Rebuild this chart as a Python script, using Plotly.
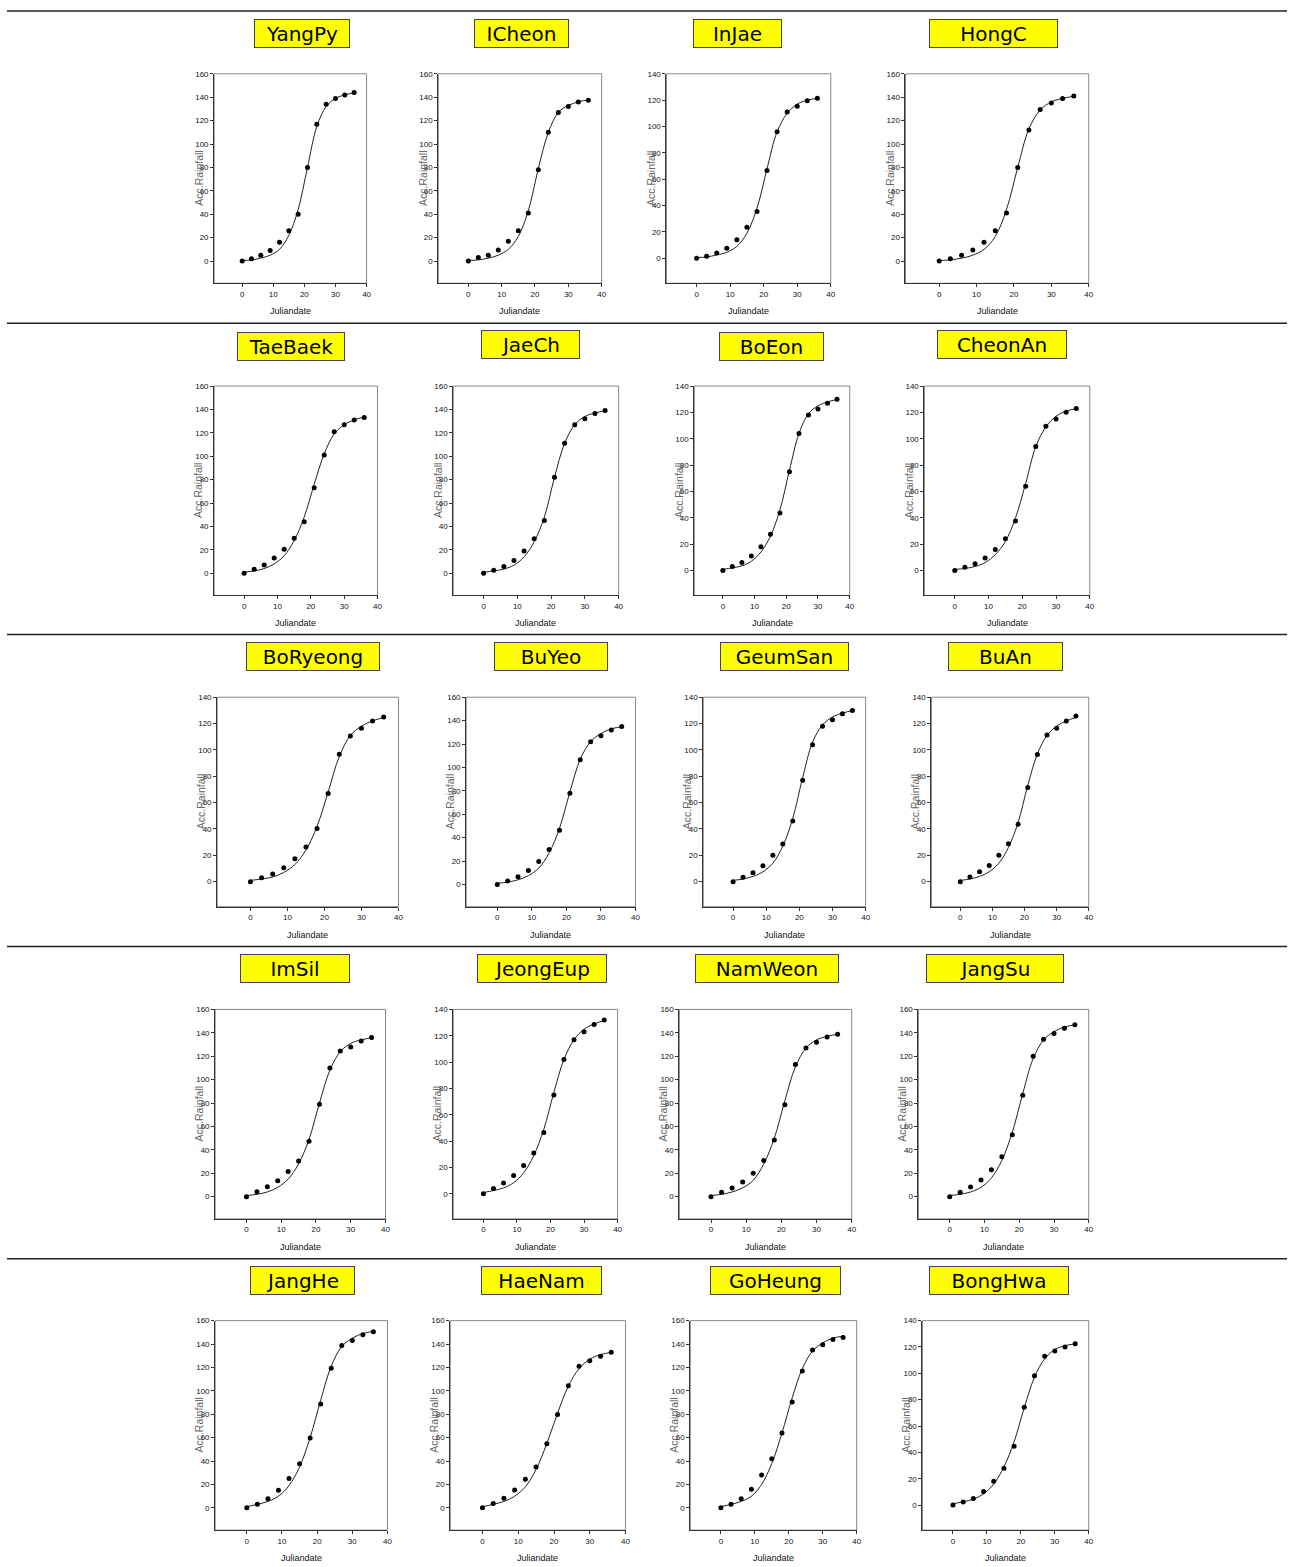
import plotly.graph_objects as go

W, H = 1294, 1567

# ---------------- data ----------------
days = [0, 3, 6, 9, 12, 15, 18, 21, 24, 27, 30, 33, 36]
fit_days = [0, 3, 6, 9, 12, 15, 18, 21, 24, 27, 30, 33, 36.5]

names = ["YangPy", "ICheon", "InJae", "HongC",
         "TaeBaek", "JaeCh", "BoEon", "CheonAn",
         "BoRyeong", "BuYeo", "GeumSan", "BuAn",
         "ImSil", "JeongEup", "NamWeon", "JangSu",
         "JangHe", "HaeNam", "GoHeung", "BongHwa"]

y_tops = [160, 160, 140, 160,
          160, 160, 140, 140,
          140, 160, 140, 140,
          160, 140, 160, 160,
          160, 160, 160, 140]

yangpy_obs = [0, 2, 5, 9, 16, 26, 40, 80, 117, 134, 139, 142, 144]
yangpy_fit = [0.5, 1, 2.5, 5, 10, 22, 44, 80, 115, 132, 139, 142, 144]
icheon_obs = [0, 3, 5, 9.5, 17, 26, 41, 78, 110, 127, 132, 136, 137.5]
icheon_fit = [0.5, 1, 2.5, 5, 10, 21, 43, 79, 110, 127, 133, 136, 138]
injae_obs = [0, 1.5, 4, 7.6, 14, 23.5, 35.4, 66.6, 96, 111, 115.4, 119.5, 121.5]
injae_fit = [0.5, 1, 2.5, 4.5, 9, 19, 38, 68, 96, 110, 117, 120, 121.5]
hongc_obs = [0, 2, 5, 9.5, 16, 26, 41, 80, 112, 129.5, 135, 139, 141]
hongc_fit = [0.5, 1, 2.5, 5, 10, 21, 44, 80, 113, 129, 136, 139, 141]

taebaek_obs = [0, 3.4, 7, 13, 20.5, 30, 44, 73, 101, 121, 127, 131, 133]
taebaek_fit = [1, 2, 4, 8, 15, 28, 48, 76, 102, 119, 127, 131, 134]
jaech_obs = [0, 2.5, 5.7, 11, 19, 29.5, 45, 82, 111, 127, 132, 136.5, 139]
jaech_fit = [0.8, 2, 3.5, 7, 14, 27, 48, 82, 111, 127, 134, 137, 139]
boeon_obs = [0, 3, 6, 11, 18, 27.5, 43.6, 75, 104, 118, 122.5, 127, 130]
boeon_fit = [0.8, 2, 3.5, 7, 14, 26, 46, 76, 104, 119, 125, 128, 130]
cheonan_obs = [0, 2.5, 5, 9.5, 16, 24, 37.5, 64, 94, 109.5, 115, 120, 123]
cheonan_fit = [0.8, 1.5, 3, 6, 12, 22, 40, 66, 94, 109, 117, 121, 123]

boryeong_obs = [0, 3, 5.8, 10.6, 17.4, 26.4, 40.3, 67, 96.7, 110.6, 116.4, 122, 125]
boryeong_fit = [1, 2, 3.5, 7, 13, 24, 42, 68, 95, 111, 118, 122, 125]
buyeo_obs = [0, 3, 6.5, 12, 19.6, 29.8, 46.3, 78, 106.5, 122, 127, 132, 135]
buyeo_fit = [1, 2, 4, 7.5, 14, 27, 48, 79, 107, 122, 129, 133, 135]
geumsan_obs = [0, 3.3, 6.8, 12, 20, 28.5, 46, 77, 104, 118, 123, 127.5, 130]
geumsan_fit = [1, 2, 4, 7.5, 14, 27, 48, 79, 106, 119, 125, 128, 130]
buan_obs = [0, 3.5, 7.5, 12.3, 20, 28.7, 43.6, 71.5, 96.5, 111.3, 116.4, 122, 125.7]
buan_fit = [1, 2, 4, 7.5, 14, 26, 45, 73, 97, 111, 118, 122, 125]

imsil_obs = [0, 4.3, 8.5, 13.7, 21.6, 30.5, 47.3, 79, 110, 124.5, 128, 133, 136]
imsil_fit = [1, 2, 4, 8, 15, 28, 49, 80, 108, 124, 131, 134, 136]
jeongeup_obs = [0, 4, 8.3, 14, 21.5, 31, 46.5, 75, 102, 117, 123, 128.5, 132]
jeongeup_fit = [1, 2.5, 4.5, 8.5, 16, 29, 49, 77, 102, 117, 125, 129, 132]
namweon_obs = [0, 3.7, 7.4, 12.5, 20, 30.8, 48.4, 78.6, 113, 127, 132, 136.5, 138.7]
namweon_fit = [1, 2, 4, 7.5, 14, 28, 50, 82, 111, 127, 134, 137, 139]
jangsu_obs = [0, 3.7, 8.3, 14.2, 23, 34, 53, 86.6, 120, 134.5, 139.5, 144, 147]
jangsu_fit = [1, 2, 4, 8, 16, 31, 55, 88, 118, 134, 141, 145, 147]

janghe_obs = [0, 3, 7.7, 15, 25, 37.7, 59.6, 88.8, 119.4, 138.7, 143, 148, 150.6]
janghe_fit = [1, 3, 5.5, 10, 19, 35, 60, 92, 121, 138, 145, 149, 151]
haenam_obs = [0, 3.7, 8.2, 15.3, 24.4, 35, 54.8, 79.7, 104.4, 121, 125.7, 129.6, 133]
haenam_fit = [1, 3, 5.5, 10, 18, 33, 55, 81, 104, 119, 127, 131, 133]
goheung_obs = [0, 3, 7.7, 16, 28, 42, 64, 90.5, 117, 135, 139.4, 143.8, 145.5]
goheung_fit = [1, 3, 5.5, 10, 20, 38, 64, 94, 119, 134, 141, 145, 147]
bonghwa_obs = [0, 2.3, 5, 10.3, 18, 28, 44.6, 74.3, 98.2, 113, 117, 120, 122.4]
bonghwa_fit = [1, 2.5, 4.5, 8.5, 16, 29, 48, 74, 97, 111, 118, 121, 122.5]

observed = [yangpy_obs, icheon_obs, injae_obs, hongc_obs,
            taebaek_obs, jaech_obs, boeon_obs, cheonan_obs,
            boryeong_obs, buyeo_obs, geumsan_obs, buan_obs,
            imsil_obs, jeongeup_obs, namweon_obs, jangsu_obs,
            janghe_obs, haenam_obs, goheung_obs, bonghwa_obs]
fitted = [yangpy_fit, icheon_fit, injae_fit, hongc_fit,
          taebaek_fit, jaech_fit, boeon_fit, cheonan_fit,
          boryeong_fit, buyeo_fit, geumsan_fit, buan_fit,
          imsil_fit, jeongeup_fit, namweon_fit, jangsu_fit,
          janghe_fit, haenam_fit, goheung_fit, bonghwa_fit]

x_ticks = [0, 10, 20, 30, 40]

# ---------------- layout (pixel geometry) ----------------
row_tops = [70, 383, 695, 1008, 1320]
frame_h = 210
frames_x = [[(215, 368), (440, 604), (669, 834), (909, 1093)],
            [(215, 379), (455, 621), (697, 853), (928, 1094)],
            [(218, 400), (468, 638), (706, 869), (935, 1093)],
            [(216, 387), (455, 620), (682, 855), (922, 1093)],
            [(216, 389), (452, 628), (693, 860), (926, 1093)]]
title_boxes = [[(303, 29.5, 96), (523.5, 29.5, 95), (740.5, 29.5, 89), (997.5, 29.5, 129)],
               [(292, 343, 108), (532.5, 341.5, 99), (774.5, 343, 105), (1006, 341.5, 130)],
               [(314, 654.5, 134), (553, 654.5, 114), (787.5, 654.5, 129), (1009.5, 654.5, 115)],
               [(296, 967, 110), (544, 967, 130), (770, 967, 144), (999, 967, 138)],
               [(303.5, 1280, 105), (543.5, 1280, 121), (778.5, 1280, 131), (1003, 1280, 140)]]
separators = [7, 320, 632, 945, 1258]

tick_font = dict(family="Liberation Sans Narrow, Liberation Sans, Arial", size=8, color="#111111")

fig = go.Figure()
layout = dict(width=W, height=H, margin=dict(l=0, r=0, t=0, b=0),
              paper_bgcolor="white", plot_bgcolor="white", showlegend=False)
shapes = []
annotations = []

for i, name in enumerate(names):
    r, c = divmod(i, 4)
    n = i + 1
    sfx = "" if n == 1 else str(n)
    left, right = frames_x[r][c]
    top = row_tops[r]
    bottom = top + frame_h
    ymax = y_tops[i]

    fig.add_trace(go.Scatter(x=fit_days, y=fitted[i], mode="lines",
                             line=dict(color="#222222", width=1, shape="spline", smoothing=1.0),
                             xaxis="x" + sfx, yaxis="y" + sfx, hoverinfo="skip"))
    fig.add_trace(go.Scatter(x=days, y=observed[i], mode="markers",
                             marker=dict(color="black", size=5, symbol="circle"),
                             xaxis="x" + sfx, yaxis="y" + sfx, name=name))

    layout["xaxis" + sfx] = dict(domain=[left / W, right / W], range=[-9, 40], anchor="y" + sfx,
                                 tickvals=x_ticks, showline=True, linecolor="#333333", linewidth=1,
                                 ticks="outside", ticklen=3, tickcolor="#333333", tickfont=tick_font,
                                 showgrid=False, zeroline=False, fixedrange=True)
    layout["yaxis" + sfx] = dict(domain=[1 - bottom / H, 1 - top / H], range=[-19, ymax], anchor="x" + sfx,
                                 tickvals=list(range(0, ymax + 1, 20)), showline=True, linecolor="#333333",
                                 linewidth=1, ticks="outside", ticklen=3, tickcolor="#333333",
                                 tickfont=tick_font, showgrid=False, zeroline=False, fixedrange=True)
    shapes.append(dict(type="rect", xref="x" + sfx + " domain", yref="y" + sfx + " domain",
                       x0=0, x1=1, y0=0, y1=1, line=dict(color="#888888", width=1), layer="below"))

    # station title box
    cx, cy, bw = title_boxes[r][c]
    annotations.append(dict(text=name, xref="paper", yref="paper", x=cx / W, y=1 - cy / H,
                            xanchor="center", yanchor="middle", showarrow=False,
                            font=dict(family="DejaVu Sans, Verdana", size=20, color="black"),
                            bgcolor="#FFFF00", bordercolor="#444444", borderwidth=1, borderpad=0,
                            width=bw - 2, height=27))
    # y-axis title
    annotations.append(dict(text="Acc.Rainfall", xref="paper", yref="paper",
                            x=(left - 16) / W, y=1 - (top + bottom) / 2 / H, textangle=-90,
                            xanchor="center", yanchor="middle", showarrow=False,
                            font=dict(family="Liberation Sans, Arial", size=10.5, color="#666666")))
    # x-axis title
    annotations.append(dict(text="Juliandate", xref="paper", yref="paper",
                            x=(left + right) / 2 / W, y=1 - (bottom + 28) / H,
                            xanchor="center", yanchor="middle", showarrow=False,
                            font=dict(family="Liberation Sans Narrow, Liberation Sans, Arial", size=9,
                                      color="#111111")))

for yp in separators:
    shapes.append(dict(type="line", xref="paper", yref="paper", x0=7 / W, x1=1292 / W,
                       y0=1 - yp / H, y1=1 - yp / H, line=dict(color="#222222", width=1.5)))

layout["shapes"] = shapes
layout["annotations"] = annotations
fig.update_layout(**layout)

post = ("document.body.style.margin='0px';"
        "document.documentElement.style.overflow='hidden';"
        "document.body.style.overflow='hidden';"
        "var gd=document.querySelector('.plotly-graph-div');"
        "if(gd){gd.style.position='absolute';gd.style.left='0px';gd.style.top='0px';}")

fig.write_html("out.html", config={"displayModeBar": False}, post_script=post)
